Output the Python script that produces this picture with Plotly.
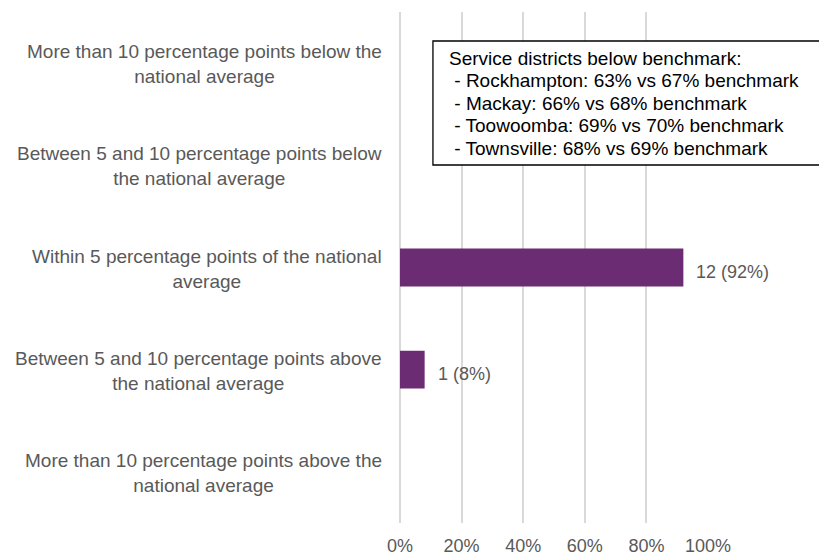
import plotly.graph_objects as go

categories = [
    "More than 10 percentage points below the national average",
    "Between 5 and 10 percentage points below the national average",
    "Within 5 percentage points of the national average",
    "Between 5 and 10 percentage points above the national average",
    "More than 10 percentage points above the national average",
]
category_lines = [
    ["More than 10 percentage points below the", "national average"],
    ["Between 5 and 10 percentage points below", "the national average"],
    ["Within 5 percentage points of the national", "average"],
    ["Between 5 and 10 percentage points above", "the national average"],
    ["More than 10 percentage points above the", "national average"],
]
counts = [0, 0, 12, 1, 0]
shares = [0.0, 0.0, 0.92, 0.08, 0.0]
share_labels = ["", "", "12 (92%)", "1 (8%)", ""]
tick_vals = [0, 0.2, 0.4, 0.6, 0.8, 1.0]
tick_text = ["0%", "20%", "40%", "60%", "80%", "100%"]
box_lines = [
    "Service districts below benchmark:",
    "\u00a0- Rockhampton: 63% vs 67% benchmark",
    "\u00a0- Mackay: 66% vs 68% benchmark",
    "\u00a0- Toowoomba: 69% vs 70% benchmark",
    "\u00a0- Townsville: 68% vs 69% benchmark",
]

FONT = "Liberation Sans, Arial, sans-serif"
GREY = "#595959"

W, H = 827, 555
OFF = 8  # page body margin
L, R, T, B = 392, 126.5, 4, 40
PW = W - L - R
PH = H - T - B

def px_x(px):
    return (px - OFF - L) / PW

def px_y(py):
    return (H - B - (py - OFF)) / PH

fig = go.Figure()
fig.add_trace(go.Bar(
    x=shares, y=categories, orientation="h",
    marker=dict(color="#6B2C73", line=dict(width=0)),
    hoverinfo="skip",
))

for cat, s, lab in zip(categories, shares, share_labels):
    if lab:
        fig.add_annotation(x=s, y=cat, xref="x", yref="y", text=lab,
                           showarrow=False, xanchor="left", yanchor="middle",
                           xshift=11, yshift=-4,
                           font=dict(family=FONT, size=18, color=GREY))

for cat, lines in zip(categories, category_lines):
    fig.add_annotation(x=0, y=cat, xref="paper", yref="y", text="<br>".join(lines),
                       showarrow=False, xanchor="right", yanchor="middle",
                       align="center", xshift=-16, yshift=-1,
                       font=dict(family=FONT, size=19, color=GREY))

fig.add_shape(type="rect", xref="paper", yref="paper",
              x0=px_x(433), x1=px_x(830), y0=px_y(165), y1=px_y(41),
              line=dict(color="black", width=1.3), fillcolor="white", layer="above")

box_centres = [58, 80.5, 103, 125.5, 148]
for line, yc in zip(box_lines, box_centres):
    fig.add_annotation(x=px_x(447), y=px_y(yc), xref="paper", yref="paper",
                       text=line, showarrow=False,
                       xanchor="left", yanchor="middle", align="left",
                       font=dict(family=FONT, size=19, color="black"))

fig.update_layout(
    width=W, height=H,
    margin=dict(l=L, r=R, t=T, b=B, pad=0),
    plot_bgcolor="white", paper_bgcolor="white",
    bargap=0.63, showlegend=False,
    xaxis=dict(range=[0, 1], tickvals=tick_vals, ticktext=tick_text,
               showgrid=True, gridcolor="#d9d9d9", gridwidth=1.5,
               zeroline=True, zerolinecolor="#d9d9d9", zerolinewidth=1.5,
               showline=False, ticks="", ticklabelstandoff=10,
               tickfont=dict(family=FONT, size=18, color=GREY), fixedrange=True),
    yaxis=dict(categoryorder="array", categoryarray=categories,
               range=[4.5, -0.5], showticklabels=False, showgrid=False,
               zeroline=False, showline=False, ticks="", fixedrange=True),
)

fig.write_html("out.html")
